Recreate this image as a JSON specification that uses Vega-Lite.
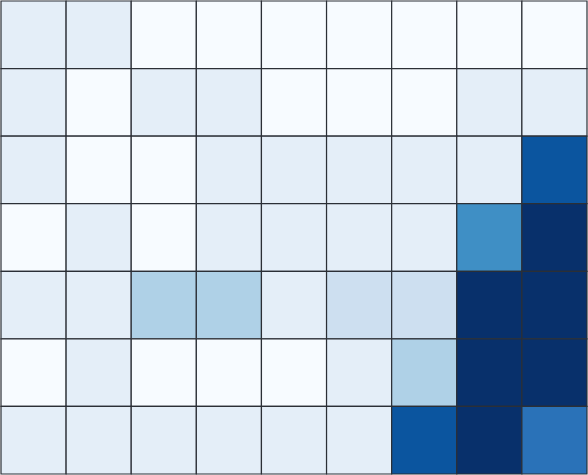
{
  "$schema": "https://vega.github.io/schema/vega-lite/v6.json",
  "width": 588,
  "height": 475,
  "autosize": {"type": "fit", "contains": "padding"},
  "padding": 0,
  "config": {"view": {"stroke": null}},
  "data": {"values": [
    {"r":1,"c":1,"v":1},{"r":1,"c":2,"v":1},{"r":1,"c":3,"v":0},{"r":1,"c":4,"v":0},{"r":1,"c":5,"v":0},{"r":1,"c":6,"v":0},{"r":1,"c":7,"v":0},{"r":1,"c":8,"v":0},{"r":1,"c":9,"v":0},
    {"r":2,"c":1,"v":1},{"r":2,"c":2,"v":0},{"r":2,"c":3,"v":1},{"r":2,"c":4,"v":1},{"r":2,"c":5,"v":0},{"r":2,"c":6,"v":0},{"r":2,"c":7,"v":0},{"r":2,"c":8,"v":1},{"r":2,"c":9,"v":1},
    {"r":3,"c":1,"v":1},{"r":3,"c":2,"v":0},{"r":3,"c":3,"v":0},{"r":3,"c":4,"v":1},{"r":3,"c":5,"v":1},{"r":3,"c":6,"v":1},{"r":3,"c":7,"v":1},{"r":3,"c":8,"v":1},{"r":3,"c":9,"v":6},
    {"r":4,"c":1,"v":0},{"r":4,"c":2,"v":1},{"r":4,"c":3,"v":0},{"r":4,"c":4,"v":1},{"r":4,"c":5,"v":1},{"r":4,"c":6,"v":1},{"r":4,"c":7,"v":1},{"r":4,"c":8,"v":4},{"r":4,"c":9,"v":7},
    {"r":5,"c":1,"v":1},{"r":5,"c":2,"v":1},{"r":5,"c":3,"v":3},{"r":5,"c":4,"v":3},{"r":5,"c":5,"v":1},{"r":5,"c":6,"v":2},{"r":5,"c":7,"v":2},{"r":5,"c":8,"v":7},{"r":5,"c":9,"v":7},
    {"r":6,"c":1,"v":0},{"r":6,"c":2,"v":1},{"r":6,"c":3,"v":0},{"r":6,"c":4,"v":0},{"r":6,"c":5,"v":0},{"r":6,"c":6,"v":1},{"r":6,"c":7,"v":3},{"r":6,"c":8,"v":7},{"r":6,"c":9,"v":7},
    {"r":7,"c":1,"v":1},{"r":7,"c":2,"v":1},{"r":7,"c":3,"v":1},{"r":7,"c":4,"v":1},{"r":7,"c":5,"v":1},{"r":7,"c":6,"v":1},{"r":7,"c":7,"v":6},{"r":7,"c":8,"v":7},{"r":7,"c":9,"v":5}
  ]},
  "mark": {"type": "rect", "stroke": "#2b2f36", "strokeWidth": 1.2},
  "encoding": {
    "x": {"field": "c", "type": "ordinal", "axis": null, "scale": {"paddingInner": 0, "paddingOuter": 0}},
    "y": {"field": "r", "type": "ordinal", "axis": null, "scale": {"paddingInner": 0, "paddingOuter": 0}},
    "color": {"field": "v", "type": "quantitative", "legend": null,
      "scale": {"type": "linear", "domain": [0,1,2,3,4,5,6,7], "range": ["#f7fbff","#e4eef8","#cddff0","#afd1e7","#3f8fc5","#2a72b8","#0b559f","#08306b"]}}
  }
}
